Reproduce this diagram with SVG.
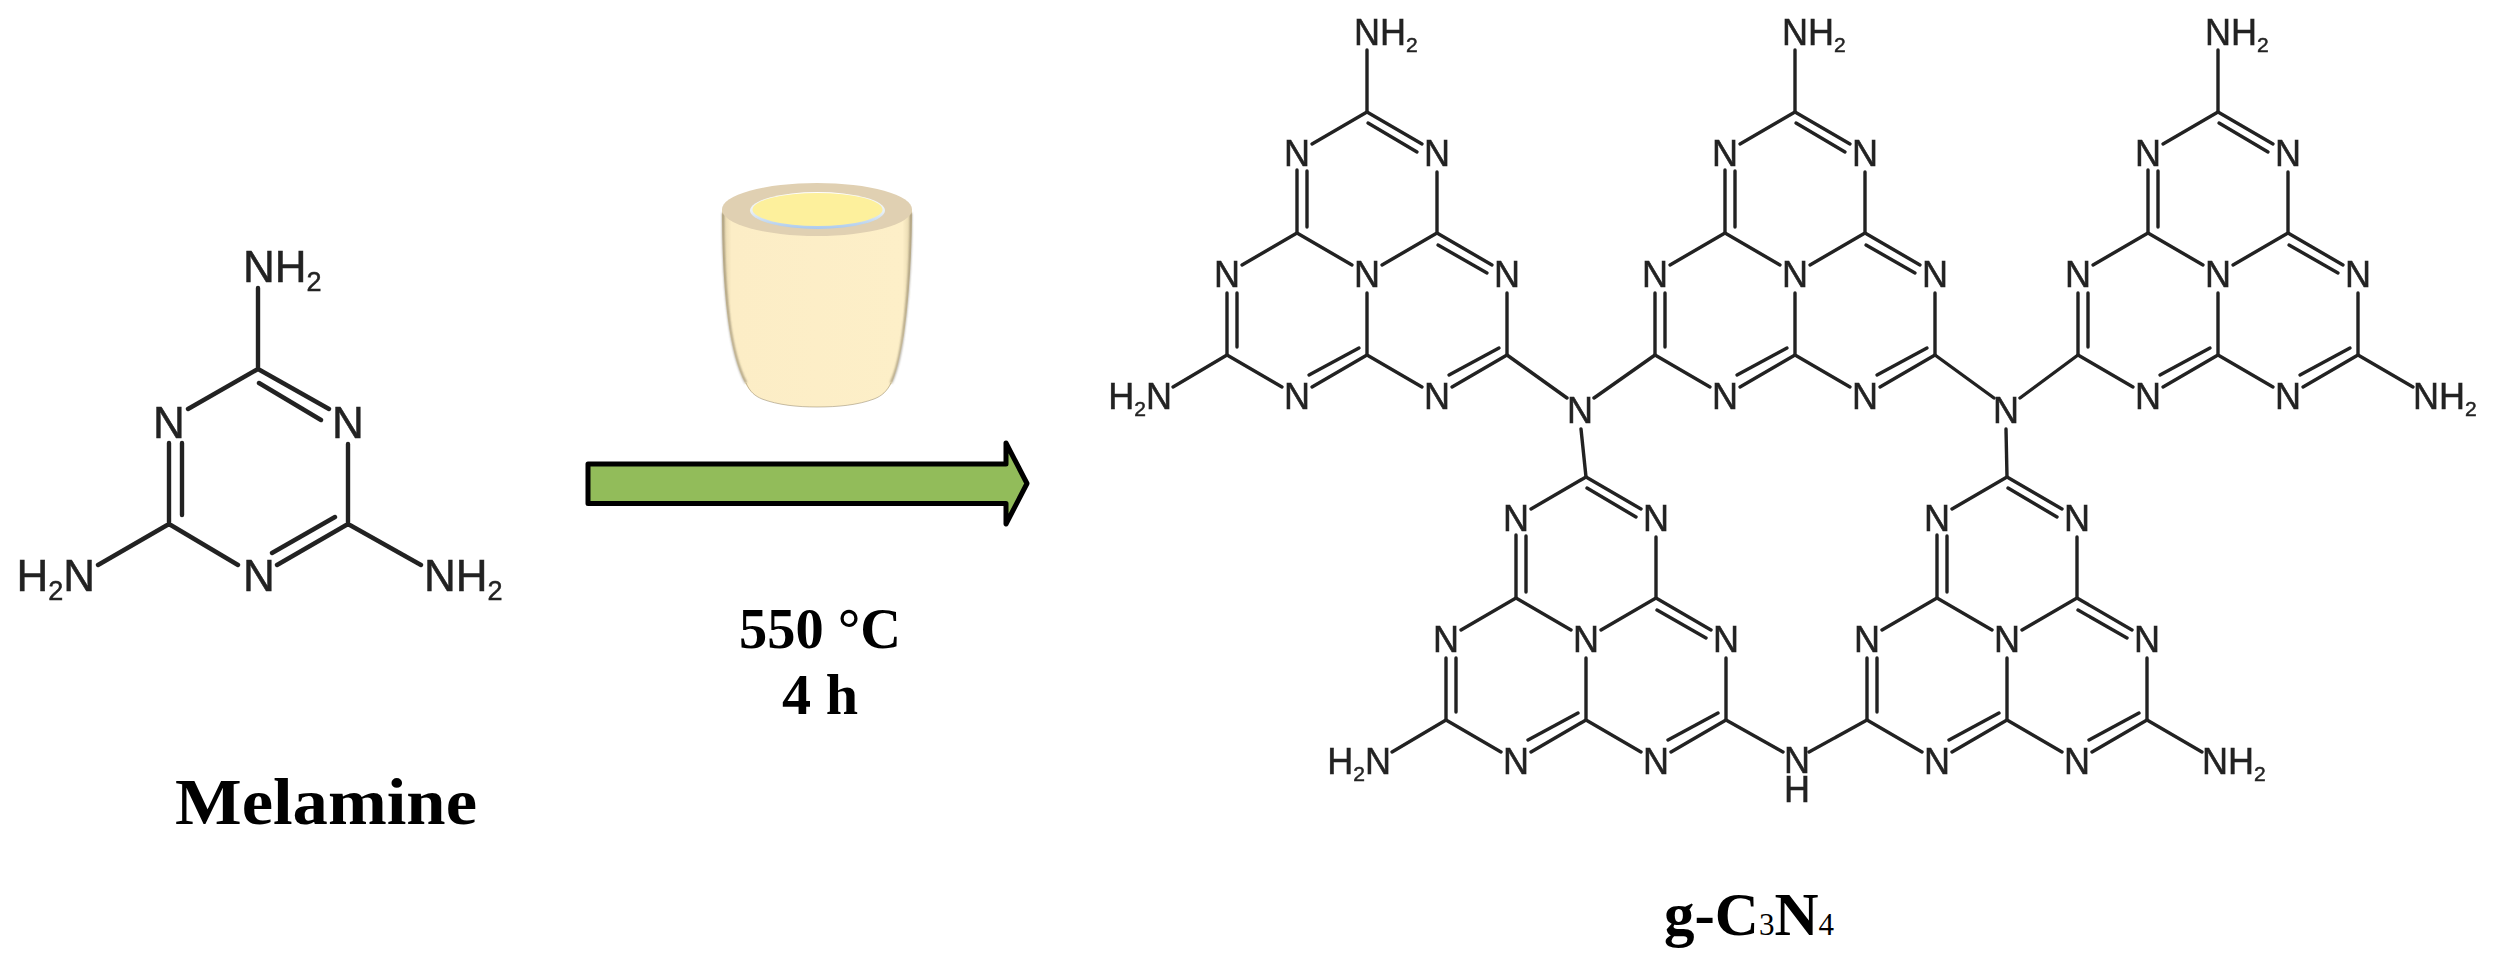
<svg xmlns="http://www.w3.org/2000/svg" width="2493" height="969" viewBox="0 0 2493 969">
<style>
.b{stroke:#222;stroke-width:3.4;fill:none;stroke-linecap:round}
.bm{stroke:#222;stroke-width:4.4;fill:none;stroke-linecap:round}
.a{font-family:"Liberation Sans",Arial,sans-serif;font-size:36px;fill:#222;stroke:#222;stroke-width:.5px;text-anchor:middle}
.s{font-size:21px}
.m{font-family:"Liberation Sans",Arial,sans-serif;font-size:44px;fill:#222;stroke:#222;stroke-width:.5px;text-anchor:middle}
.ms{font-size:27px}
.st{text-anchor:start}
.en{text-anchor:end}
.t{font-family:"Liberation Serif","Times New Roman",serif;font-weight:700;fill:#000}
</style>
<defs>
<filter id="soft" x="-2%" y="-2%" width="104%" height="104%"><feGaussianBlur stdDeviation="0.6"/></filter>
<filter id="edge" x="-5%" y="-5%" width="110%" height="110%"><feGaussianBlur stdDeviation="0.9"/></filter>
<linearGradient id="body" x1="0" x2="1" y1="0" y2="0">
<stop offset="0" stop-color="#e2d3ab"/><stop offset="0.05" stop-color="#fcedc6"/><stop offset="0.95" stop-color="#fdefc8"/><stop offset="1" stop-color="#e2d3ab"/>
</linearGradient>
<linearGradient id="lip" x1="0" x2="0" y1="0" y2="1">
<stop offset="0" stop-color="#ffffff"/><stop offset="0.55" stop-color="#e6eef5"/><stop offset="1" stop-color="#a9c9ee"/>
</linearGradient>
<g id="hept" class="b">
<path d="M0-162L-55-130M70-102V-41M-70-41L-125-9M-70-41L-15-9M70-41L15-9M0 19V81M-140 81L-85 113M0 81L55 113M140 19V81"/>
<path d="M0-162L55-130M1-151L50-122M-70-104V-41M-60-103V-47M70-41L125-9M71-29L120-1M-140 19V81M-130 19V73M0 81L-55 113M-8 74L-58 101M140 81L85 113M132 74L82 101"/>
</g>
</defs>
<rect width="2493" height="969" fill="#fff"/>

<g id="melamine" filter="url(#soft)">
<g class="bm">
<path d="M258 369V288M258 369L188 409M258 369L329 409M259 383L321 420M169 443V524M182 443V515M348 444V524M169 524L238 565M348 524L277 565M335 517L272 553M169 524L98 565M348 524L421 565"/>
</g>
<text class="m" x="169" y="438">N</text>
<text class="m" x="348" y="438">N</text>
<text class="m" x="259" y="591">N</text>
<text class="m st" x="243" y="282">NH<tspan class="ms" dy="9">2</tspan></text>
<text class="m st" x="424" y="591">NH<tspan class="ms" dy="9">2</tspan></text>
<text class="m en" x="95" y="591">H<tspan class="ms" dy="9">2</tspan><tspan dy="-9">N</tspan></text>
</g>
<text id="label-melamine" class="t" x="175" y="824" font-size="66" textLength="302" lengthAdjust="spacingAndGlyphs">Melamine</text>

<g id="crucible">
<path d="M722 209C722 250 724 290 728 320C731 343 737 368 745 383C750 392 755 396 762 399C778 405 797 407 817 407C838 407 858 405 874 399C882 396 887 391 892 383C898 368 901 350 904 335C909 300 912 250 912 209Z" fill="url(#body)"/>
<path d="M723 213C723 250 725 290 729 320C732 343 738 368 746 383M911 213C911 250 908 300 903 335C901 350 898 368 891 383" fill="none" stroke="#5f553f" stroke-width="2" stroke-opacity="0.6" filter="url(#edge)"/>
<path d="M746 383C750 392 755 396 762 399C778 405 797 407 817 407C838 407 858 405 874 399C882 396 887 391 891 383" fill="none" stroke="#8d7f62" stroke-width="1" stroke-opacity="0.5"/>
<ellipse cx="817" cy="209.500" rx="95" ry="26.500" fill="#e0d0b2"/>
<ellipse cx="817.500" cy="210.500" rx="67.500" ry="18.500" fill="url(#lip)"/>
<ellipse cx="817.500" cy="209.500" rx="65" ry="16.500" fill="#fdf09c"/>
</g>

<g id="arrow">
<path d="M588 464H1006V443L1027 483.500L1006 524V503.500H588Z" fill="#92bc5a" stroke="#000" stroke-width="5" stroke-linejoin="round"/>
</g>
<g id="conditions" class="t">
<text x="820" y="648" font-size="58" text-anchor="middle" textLength="162" lengthAdjust="spacingAndGlyphs">550 °C</text>
<text x="820" y="714" font-size="58" text-anchor="middle" textLength="76" lengthAdjust="spacingAndGlyphs">4 h</text>
</g>

<g id="gcn" filter="url(#soft)">
<g id="connectors" class="b">
<path d="M1507 355L1567 398M1594 398L1655 355M1581 429L1586 477M1935 355L1994 398M2020 398L2078 355M2006 429L2007 477M1726 720L1783 752M1809 752L1867 720"/>
</g>
<g id="unit-1" transform="translate(1367,274)">
<use href="#hept"/>
<path class="b" d="M0-162V-224M-140 81L-194 113"/>
<text class="a" x="-70" y="-108.500">N</text><text class="a" x="70" y="-108.500">N</text><text class="a" x="-140" y="13">N</text><text class="a" x="0" y="13">N</text><text class="a" x="140" y="13">N</text><text class="a" x="-70" y="134.500">N</text><text class="a" x="70" y="134.500">N</text>
<text class="a st" x="-13" y="-229">NH<tspan class="s" dy="7">2</tspan></text>
<text class="a en" x="-195" y="134.500">H<tspan class="s" dy="7">2</tspan><tspan dy="-7">N</tspan></text>
</g>
<g id="unit-2" transform="translate(1795,274)">
<use href="#hept"/>
<path class="b" d="M0-162V-224"/>
<text class="a" x="-70" y="-108.500">N</text><text class="a" x="70" y="-108.500">N</text><text class="a" x="-140" y="13">N</text><text class="a" x="0" y="13">N</text><text class="a" x="140" y="13">N</text><text class="a" x="-70" y="134.500">N</text><text class="a" x="70" y="134.500">N</text>
<text class="a st" x="-13" y="-229">NH<tspan class="s" dy="7">2</tspan></text>
</g>
<g id="unit-3" transform="translate(2218,274)">
<use href="#hept"/>
<path class="b" d="M0-162V-224M140 81L195 113"/>
<text class="a" x="-70" y="-108.500">N</text><text class="a" x="70" y="-108.500">N</text><text class="a" x="-140" y="13">N</text><text class="a" x="0" y="13">N</text><text class="a" x="140" y="13">N</text><text class="a" x="-70" y="134.500">N</text><text class="a" x="70" y="134.500">N</text>
<text class="a st" x="-13" y="-229">NH<tspan class="s" dy="7">2</tspan></text>
<text class="a st" x="195" y="134.500">NH<tspan class="s" dy="7">2</tspan></text>
</g>
<g id="unit-4" transform="translate(1586,639)">
<use href="#hept"/>
<path class="b" d="M-140 81L-194 113"/>
<text class="a" x="-70" y="-108.500">N</text><text class="a" x="70" y="-108.500">N</text><text class="a" x="-140" y="13">N</text><text class="a" x="0" y="13">N</text><text class="a" x="140" y="13">N</text><text class="a" x="-70" y="134.500">N</text><text class="a" x="70" y="134.500">N</text>
<text class="a en" x="-195" y="134.500">H<tspan class="s" dy="7">2</tspan><tspan dy="-7">N</tspan></text>
</g>
<g id="unit-5" transform="translate(2007,639)">
<use href="#hept"/>
<path class="b" d="M140 81L195 113"/>
<text class="a" x="-70" y="-108.500">N</text><text class="a" x="70" y="-108.500">N</text><text class="a" x="-140" y="13">N</text><text class="a" x="0" y="13">N</text><text class="a" x="140" y="13">N</text><text class="a" x="-70" y="134.500">N</text><text class="a" x="70" y="134.500">N</text>
<text class="a st" x="195" y="134.500">NH<tspan class="s" dy="7">2</tspan></text>
</g>
<g id="link-n1"><text class="a" x="1580" y="423">N</text></g>
<g id="link-n2"><text class="a" x="2006" y="423">N</text></g>
<g id="link-nh"><text class="a" x="1797" y="773">N<tspan x="1797" y="802">H</tspan></text></g>
</g>
<text id="label-gcn" class="t" x="1664" y="935" font-size="61">g-C<tspan font-size="31" font-weight="400">3</tspan>N<tspan font-size="31" font-weight="400">4</tspan></text>
</svg>
